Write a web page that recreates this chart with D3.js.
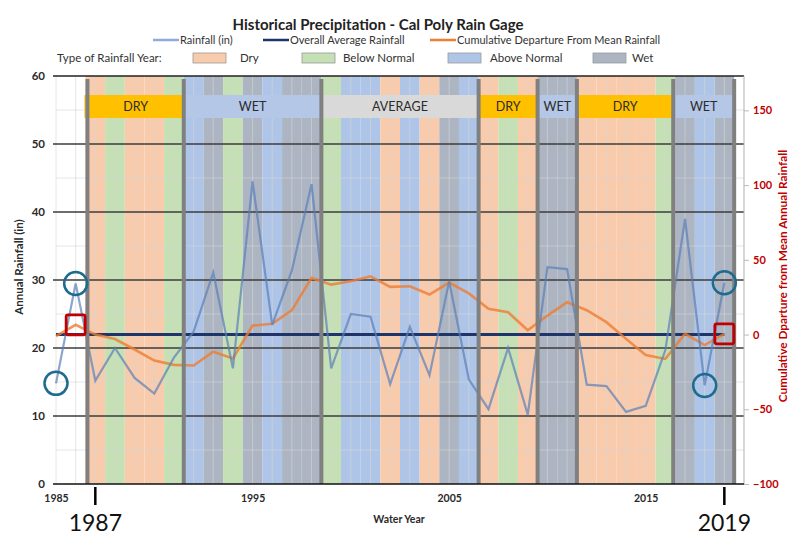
<!DOCTYPE html>
<html>
<head>
<meta charset="utf-8">
<script src="https://cdn.jsdelivr.net/npm/d3@7"></script>
<style>
  body { margin: 0; background: #fff; }
  svg { font-family: Lato, "Open Sans", sans-serif; }
</style>
</head>
<body>
<div id="chart"></div>
<script>
// water years and values
const years = d3.range(1985, 2020)
const rainfall = [14.8, 29.5, 15.2, 20.0, 15.6, 13.3, 18.6, 22.4, 31.1, 17.0,
  44.5, 23.4, 31.4, 44.1, 17.0, 25.0, 24.6, 14.7, 23.1, 16.0,
  29.8, 15.4, 11.0, 20.0, 10.2, 31.9, 31.6, 14.6, 14.4, 10.6,
  11.5, 19.7, 39.0, 14.5, 29.6]
const cumDeparture = [-1, 6.5, 0, -3, -10, -17.4, -20.3, -20.7, -11.5, -16,
  6, 7.2, 16.3, 37.9, 33.4, 35.7, 39, 31.9, 32.3, 26.8,
  34.8, 27.5, 17.2, 14.9, 2.9, 12.7, 21.6, 16.3, 8.3, -2.9,
  -13.7, -16.3, 0.5, -7, 0.5]
const averageRainfall = 22.0

// type of rainfall year, 1987..2019 (D dry, B below normal, A above normal, W wet)
const typeYears = d3.range(1987, 2020)
const yearTypes = ['D', 'B', 'D', 'D', 'B', 'A', 'W', 'B', 'W', 'A',
  'W', 'W', 'B', 'A', 'A', 'D', 'A', 'D', 'W', 'A',
  'D', 'B', 'D', 'W', 'W', 'D', 'D', 'D', 'D', 'B',
  'W', 'A', 'W']

// dry / wet periods
const periodLabels = ['DRY', 'WET', 'AVERAGE', 'DRY', 'WET', 'DRY', 'WET']
const periodBounds = [1986.6, 1991.5, 1998.5, 2006.5, 2009.5, 2011.5, 2016.4, 2019.5]

const typeNames = ['Dry', 'Below Normal', 'Above Normal', 'Wet']
const xTicks = [1985, 1995, 2005, 2015]
const leftTicks = [0, 10, 20, 30, 40, 50, 60]
const rightTicks = [-100, -50, 0, 50, 100, 150]
const circledYears = [1985, 1986, 2018, 2019]
const boxedYears = [1986, 2019]
const markedYears = [1987, 2019]

const typeColor = { D: '#f8cbad', B: '#c5e0b4', A: '#afc5e8', W: '#adb5c3' }
const periodColor = { DRY: '#ffc000', WET: '#b4c7e7', AVERAGE: '#d9d9d9' }

const width = 790, height = 556

const x = d3.scaleLinear().domain([1985, 2020]).range([56, 744])
const yL = d3.scaleLinear().domain([0, 60]).range([484, 76])
const yR = d3.scaleLinear().domain([-100, 173]).range([484, 76])

const svg = d3.select('#chart').append('svg')
  .attr('width', width)
  .attr('height', height)

svg.append('rect').attr('width', width).attr('height', height).attr('fill', '#fff')

// year type bands
svg.append('g').selectAll('rect')
  .data(typeYears)
  .enter().append('rect')
  .attr('x', d => x(d - 0.5))
  .attr('y', yL(60))
  .attr('width', x(1) - x(0))
  .attr('height', yL(0) - yL(60))
  .attr('fill', (d, i) => typeColor[yearTypes[i]])

// light grid
const light = svg.append('g').attr('stroke', '#d6d6d6').attr('stroke-opacity', 0.6)
light.selectAll('.v').data(years.concat([2020])).enter().append('line')
  .attr('x1', d => x(d)).attr('x2', d => x(d))
  .attr('y1', yL(60)).attr('y2', yL(0))
light.selectAll('.h').data(d3.range(5, 60, 10)).enter().append('line')
  .attr('x1', x(1985)).attr('x2', x(2020))
  .attr('y1', d => yL(d)).attr('y2', d => yL(d))

// period label bars
const pg = svg.append('g')
pg.selectAll('rect')
  .data(periodLabels)
  .enter().append('rect')
  .attr('x', (d, i) => x(periodBounds[i]) - (i == 0 ? 3 : 0))
  .attr('y', 95)
  .attr('width', (d, i) => x(periodBounds[i + 1]) - x(periodBounds[i]) + (i == 0 ? 3 : 0))
  .attr('height', 23)
  .attr('fill', d => periodColor[d])
pg.selectAll('text')
  .data(periodLabels)
  .enter().append('text')
  .attr('x', (d, i) => (x(periodBounds[i]) + x(periodBounds[i + 1])) / 2)
  .attr('y', 111)
  .attr('text-anchor', 'middle')
  .attr('font-size', 12.5)
  .attr('fill', '#2b2b2b')
  .text(d => d)

// dark grid
svg.append('g').selectAll('line')
  .data(leftTicks.slice(1))
  .enter().append('line')
  .attr('x1', 53).attr('x2', x(2020))
  .attr('y1', d => yL(d)).attr('y2', d => yL(d))
  .attr('stroke', d => d == 60 ? '#222' : '#3c3c3c')
  .attr('stroke-width', 1.6)

// overall average
svg.append('line')
  .attr('x1', x(1985)).attr('x2', x(2019))
  .attr('y1', yL(averageRainfall)).attr('y2', yL(averageRainfall))
  .attr('stroke', '#1f3468')
  .attr('stroke-width', 3)

// cumulative departure
const cumLine = d3.line().x((d, i) => x(years[i])).y(d => yR(d))
svg.append('path')
  .datum(cumDeparture)
  .attr('d', cumLine)
  .attr('fill', 'none')
  .attr('stroke', '#ed7d31')
  .attr('stroke-opacity', 0.8)
  .attr('stroke-width', 2.6)

// rainfall
const rainLine = d3.line().x((d, i) => x(years[i])).y(d => yL(d))
svg.append('path')
  .datum(rainfall)
  .attr('d', rainLine)
  .attr('fill', 'none')
  .attr('stroke', '#5a7fb8')
  .attr('stroke-opacity', 0.7)
  .attr('stroke-width', 2.2)

// period boundaries
svg.append('g').selectAll('line')
  .data(periodBounds)
  .enter().append('line')
  .attr('x1', d => x(d)).attr('x2', d => x(d))
  .attr('y1', 79).attr('y2', yL(0))
  .attr('stroke', '#808080')
  .attr('stroke-width', 4)

// axes
const axL = svg.append('g')
  .attr('transform', 'translate(53,0)')
  .call(d3.axisLeft(yL).tickValues(leftTicks).tickSize(0).tickPadding(8))
axL.select('.domain').remove()
axL.selectAll('text').attr('font-size', 11.5).attr('font-weight', 'bold').attr('fill', '#2a2a2a')
  .style('font-family', 'Lato, sans-serif')

svg.append('line')
  .attr('x1', x(2020)).attr('x2', x(2020))
  .attr('y1', yL(60)).attr('y2', yL(0))
  .attr('stroke', '#bbb')
const axR = svg.append('g')
  .attr('transform', `translate(${x(2020)},0)`)
  .call(d3.axisRight(yR).tickValues(rightTicks).tickSize(5).tickPadding(4))
axR.select('.domain').remove()
axR.selectAll('line').attr('stroke', '#bbb')
axR.selectAll('text').attr('font-size', 11).attr('font-weight', 'bold').attr('fill', '#c00000')
  .style('font-family', 'Lato, sans-serif')

svg.append('line')
  .attr('x1', 53).attr('x2', x(2020))
  .attr('y1', yL(0)).attr('y2', yL(0))
  .attr('stroke', '#111')
  .attr('stroke-width', 1.6)
const axB = svg.append('g')
  .attr('transform', `translate(0,${yL(0)})`)
  .call(d3.axisBottom(x).tickValues(xTicks).tickFormat(d3.format('d')).tickSize(0).tickPadding(11))
axB.select('.domain').remove()
axB.selectAll('text').attr('font-size', 10.5).attr('font-weight', 'bold').attr('fill', '#2a2a2a')
  .style('font-family', 'Lato, sans-serif')

svg.append('text')
  .attr('x', 399).attr('y', 523)
  .attr('text-anchor', 'middle')
  .attr('font-size', 10.5).attr('font-weight', 'bold').attr('fill', '#2a2a2a')
  .text('Water Year')

svg.append('text')
  .attr('transform', 'translate(23,267) rotate(-90)')
  .attr('text-anchor', 'middle')
  .attr('font-size', 11.5).attr('font-weight', 'bold').attr('fill', '#2a2a2a')
  .text('Annual Rainfall (in)')

svg.append('text')
  .attr('transform', 'translate(787,276) rotate(-90)')
  .attr('text-anchor', 'middle')
  .attr('font-size', 11.8).attr('font-weight', 'bold').attr('fill', '#c00000')
  .text('Cumulative Dparture from Mean Annual Rainfall')

// title
svg.append('text')
  .attr('x', 378).attr('y', 30)
  .attr('text-anchor', 'middle')
  .attr('font-size', 15).attr('font-weight', 'bold').attr('fill', '#222')
  .text('Historical Precipitation - Cal Poly Rain Gage')

// legend row 1: series
const seriesNames = ['Rainfall (in)', 'Overall Average Rainfall', 'Cumulative Departure From Mean Rainfall']
const seriesColors = ['#8faadc', '#1f3468', '#ed7d31']
const seriesX = [153, 263, 430]
const lg1 = svg.append('g').selectAll('g')
  .data(seriesNames)
  .enter().append('g')
  .attr('transform', (d, i) => `translate(${seriesX[i]},44)`)
lg1.append('line')
  .attr('x1', 0).attr('x2', 26).attr('y1', -4).attr('y2', -4)
  .attr('stroke', (d, i) => seriesColors[i])
  .attr('stroke-width', 2.5)
lg1.append('text')
  .attr('x', 27)
  .attr('font-size', 11).attr('fill', '#333')
  .text(d => d)

// legend row 2: year types
svg.append('text')
  .attr('x', 57).attr('y', 62)
  .attr('font-size', 11.5).attr('fill', '#333')
  .text('Type of Rainfall Year:')
const typeKeys = ['D', 'B', 'A', 'W']
const swatchX = [193, 302, 448, 593]
const nameX = [240, 343, 490, 632]
const lg2 = svg.append('g').selectAll('g')
  .data(typeNames)
  .enter().append('g')
lg2.append('rect')
  .attr('x', (d, i) => swatchX[i]).attr('y', 53)
  .attr('width', 33).attr('height', 10)
  .attr('fill', (d, i) => typeColor[typeKeys[i]])
  .attr('stroke', '#999').attr('stroke-width', 0.8)
lg2.append('text')
  .attr('x', (d, i) => nameX[i]).attr('y', 62)
  .attr('font-size', 11.5).attr('fill', '#333')
  .text(d => d)

// highlight circles and squares
svg.append('g').selectAll('circle')
  .data(circledYears)
  .enter().append('circle')
  .attr('cx', d => x(d))
  .attr('cy', d => yL(rainfall[years.indexOf(d)]))
  .attr('r', 11.5)
  .attr('fill', 'none')
  .attr('stroke', '#1d6b8e')
  .attr('stroke-width', 2.5)

svg.append('g').selectAll('rect')
  .data(boxedYears)
  .enter().append('rect')
  .attr('x', d => x(d) - 9.5)
  .attr('y', d => yR(cumDeparture[years.indexOf(d)]) - 10)
  .attr('width', 19).attr('height', 20)
  .attr('rx', 2)
  .attr('fill', 'none')
  .attr('stroke', '#c00000')
  .attr('stroke-width', 2.8)

// year marks under the axis
const mk = svg.append('g').selectAll('g')
  .data(markedYears)
  .enter().append('g')
mk.append('line')
  .attr('x1', d => x(d)).attr('x2', d => x(d))
  .attr('y1', 487).attr('y2', 505)
  .attr('stroke', '#000').attr('stroke-width', 2.5)
mk.append('text')
  .attr('x', d => x(d))
  .attr('y', 531)
  .attr('text-anchor', 'middle')
  .attr('font-size', 23)
  .attr('fill', '#111')
  .text(d => d)
</script>
</body>
</html>
